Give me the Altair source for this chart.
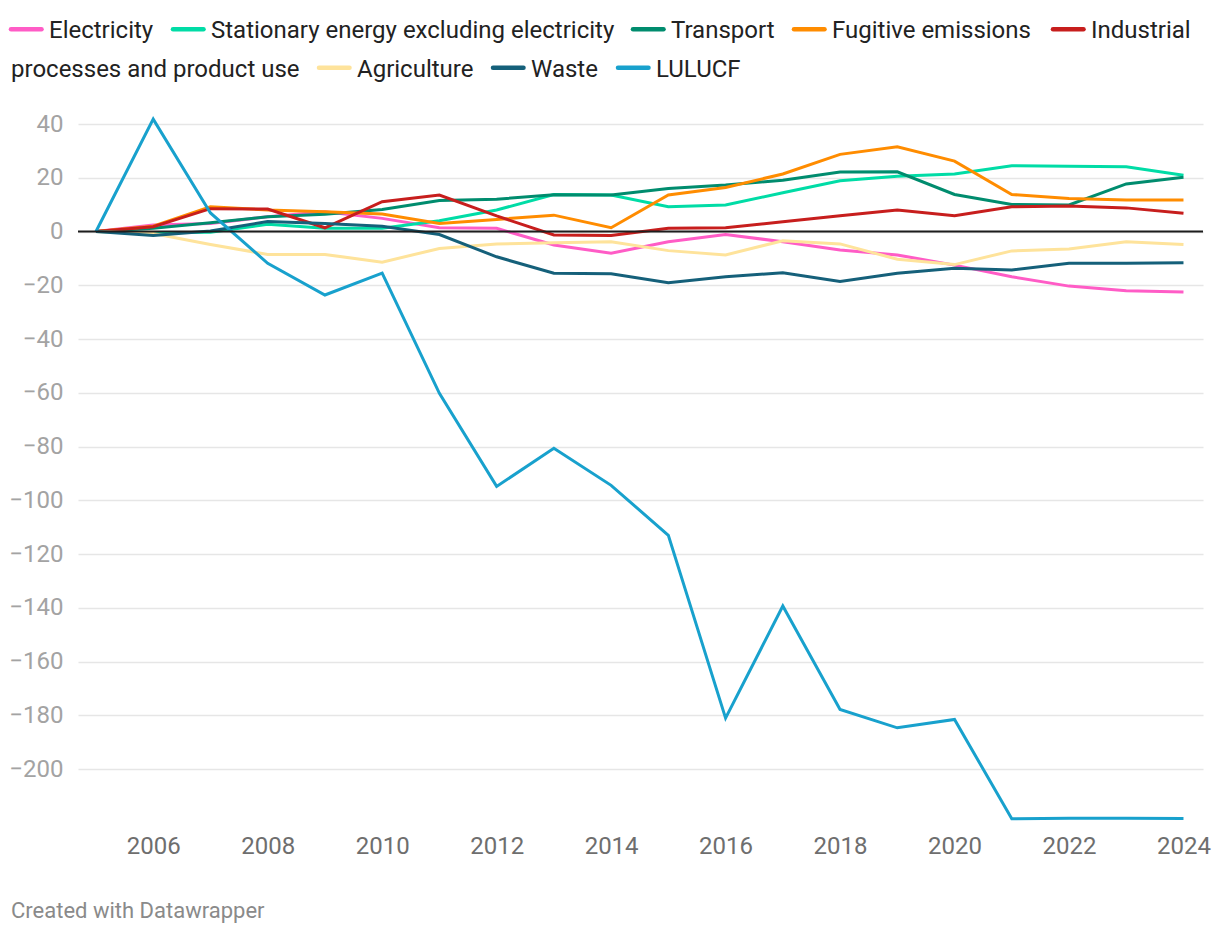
import altair as alt
import pandas as pd

# ---------------- data ----------------
years = list(range(2005, 2025))

series_names = [
    "Electricity",
    "Stationary energy excluding electricity",
    "Transport",
    "Fugitive emissions",
    "Industrial processes and product use",
    "Agriculture",
    "Waste",
    "LULUCF",
]
series_colors = ["#ff5cc6", "#00dca6", "#008c6e", "#ff8c00", "#c71e1d", "#fee39b", "#15607a", "#18a1cd"]

electricity = [0, 2.4, 3.0, 5.5, 7.4, 4.9, 1.4, 1.2, -5.0, -8.1, -3.8, -1.1, -3.8, -6.9, -8.7, -12.5, -16.8, -20.3, -22.0, -22.5]
stationary = [0, -0.4, -0.3, 2.7, 1.2, 1.2, 4.0, 8.0, 13.8, 13.6, 9.2, 9.9, 14.4, 18.9, 20.6, 21.4, 24.5, 24.3, 24.1, 20.9]
transport = [0, 1.2, 3.3, 5.5, 6.4, 8.2, 11.5, 12.0, 13.7, 13.6, 16.0, 17.3, 19.1, 22.1, 22.2, 13.8, 10.1, 9.9, 17.7, 20.2]
fugitive = [0, 2.0, 9.2, 8.0, 7.4, 6.5, 3.0, 4.5, 6.1, 1.4, 13.6, 16.4, 21.4, 28.7, 31.5, 26.2, 13.8, 12.3, 11.7, 11.7]
industrial = [0, 1.8, 8.5, 8.4, 1.4, 11.1, 13.6, 5.8, -1.3, -1.5, 1.2, 1.4, 3.6, 5.9, 8.0, 5.9, 9.2, 9.5, 8.8, 6.8]
agriculture = [0, -0.7, -4.8, -8.5, -8.5, -11.4, -6.3, -4.6, -4.2, -3.8, -7.1, -8.7, -3.4, -4.6, -10.3, -12.3, -7.2, -6.5, -3.8, -4.8]
waste = [0, -1.5, 0.2, 3.7, 3.0, 2.0, -1.1, -9.4, -15.5, -15.7, -19.0, -16.8, -15.3, -18.6, -15.5, -13.7, -14.3, -11.8, -11.8, -11.6]
lulucf = [0, 41.8, 6.9, -11.8, -23.6, -15.5, -60.2, -94.8, -80.6, -94.4, -113.0, -181.0, -139.3, -177.8, -184.6, -181.5, -218.4, -218.2, -218.2, -218.3]

series_values = [electricity, stationary, transport, fugitive, industrial, agriculture, waste, lulucf]

x_tick_values = list(range(2006, 2025, 2))
y_tick_values = list(range(-200, 41, 20))

# legend (Datawrapper-style inline legend that wraps across two lines)
legend_texts = ["Electricity", "Stationary energy excluding electricity", "Transport",
                "Fugitive emissions", "Industrial", "processes and product use",
                "Agriculture", "Waste", "LULUCF"]
legend_swatch_idx = [0, 1, 2, 3, 4, None, 5, 6, 7]   # which series swatch precedes the text
legend_text_x = [49, 211, 671, 832, 1091, 11, 357, 531, 656]  # page px
legend_text_row = [0, 0, 0, 0, 0, 1, 1, 1, 1]

footer_text = "Created with Datawrapper"

# ---------------- layout ----------------
PAD_LEFT, PAD_TOP, PAD_RIGHT, PAD_BOTTOM = 70, 116, 9, 100
W, H = 1125, 699
ORIGIN_X, ORIGIN_Y = 8 + PAD_LEFT, 8 + PAD_TOP
ROW_BASELINE = [38.3, 76.7]
ROW_SWATCH = [29.3, 67.7]
FONT = "Roboto"

rows = []
for name, vals in zip(series_names, series_values):
    for yr, v in zip(years, vals):
        rows.append({"series": name, "year": yr, "value": v})
df = pd.DataFrame(rows)

x_enc = alt.X(
    "year:Q",
    scale=alt.Scale(domain=[2004.686, 2024.341], nice=False, zero=False),
    axis=alt.Axis(values=x_tick_values, format="d", title=None, grid=False, ticks=False,
                  tickSize=0, domain=False, labelFont=FONT, labelFontSize=24,
                  labelColor="#6e6e6e", labelPadding=11),
)
y_enc = alt.Y(
    "value:Q",
    scale=alt.Scale(domain=[-220, 40], nice=False, zero=False),
    axis=alt.Axis(values=y_tick_values, title=None, grid=True, gridColor="#e6e6e6",
                  gridWidth=1.5, ticks=False, tickSize=0, domain=False, labelFont=FONT,
                  labelFontSize=24, labelColor="#a3a3a3", labelPadding=15),
)

lines = alt.Chart(df).mark_line(strokeWidth=3).encode(
    x=x_enc,
    y=y_enc,
    color=alt.Color("series:N", scale=alt.Scale(domain=series_names, range=series_colors), legend=None),
    order=alt.Order("year:Q"),
)

zero_line = alt.Chart(pd.DataFrame({"zero": [0]})).mark_rule(color="#1d1d1d", strokeWidth=2).encode(
    y=alt.Y("zero:Q")
)

one_row = pd.DataFrame({"k": [0]})
legend_layers = []
for txt, cidx, tx, row in zip(legend_texts, legend_swatch_idx, legend_text_x, legend_text_row):
    if cidx is not None:
        sw_end = tx - 7.5
        sw_start = sw_end - 30.5
        legend_layers.append(
            alt.Chart(one_row).mark_rule(color=series_colors[cidx], strokeWidth=4.5, strokeCap="round").encode(
                x=alt.value(sw_start - ORIGIN_X),
                x2=alt.value(sw_end - ORIGIN_X),
                y=alt.value(ROW_SWATCH[row] - ORIGIN_Y),
            )
        )
    legend_layers.append(
        alt.Chart(one_row).mark_text(text=txt, align="left", baseline="alphabetic", font=FONT,
                                     fontSize=24, color="#222222").encode(
            x=alt.value(tx - ORIGIN_X),
            y=alt.value(ROW_BASELINE[row] - ORIGIN_Y),
        )
    )

footer = alt.Chart(one_row).mark_text(text=footer_text, align="left", baseline="alphabetic", font=FONT,
                                      fontSize=22, color="#8a8a8a").encode(
    x=alt.value(11 - ORIGIN_X),
    y=alt.value(918 - ORIGIN_Y),
)

chart = alt.layer(lines, zero_line, *legend_layers, footer).properties(
    width=W,
    height=H,
    autosize=alt.AutoSizeParams(type="none"),
    padding={"left": PAD_LEFT, "top": PAD_TOP, "right": PAD_RIGHT, "bottom": PAD_BOTTOM},
).configure(font=FONT).configure_view(stroke=None)

chart.save("out.html", embed_options={"renderer": "svg", "actions": False})
